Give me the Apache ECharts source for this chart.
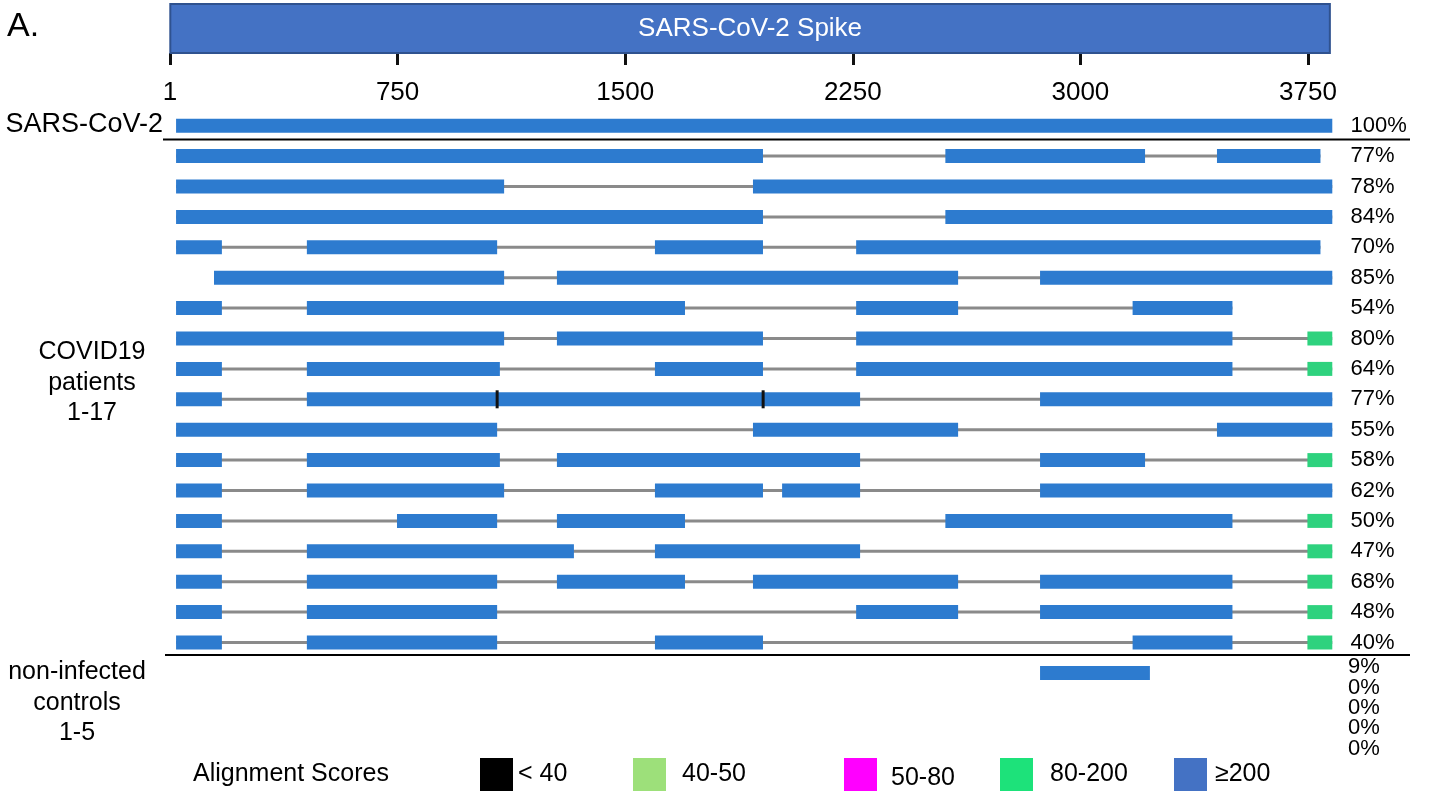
<!DOCTYPE html>
<html>
<head>
<meta charset="utf-8">
<title>SARS-CoV-2 Spike alignments</title>
<script src="https://cdn.jsdelivr.net/npm/echarts@6/dist/echarts.min.js"></script>
<style>
  html, body { margin: 0; padding: 0; background: #fff; }
  #chart { width: 1432px; height: 793px; }
</style>
</head>
<body>
<div id="chart"></div>
<script>
// gene on top, positions in nucleotides
const geneName = 'SARS-CoV-2 Spike';
const geneStart = 1;
const geneEnd = 3822;
const tickValues = [0, 750, 1500, 2250, 3000, 3750];
const tickLabels = ['1', '750', '1500', '2250', '3000', '3750'];

const rowNames = ['SARS-CoV-2',
  'P1', 'P2', 'P3', 'P4', 'P5', 'P6', 'P7', 'P8', 'P9', 'P10', 'P11', 'P12', 'P13', 'P14', 'P15', 'P16', 'P17',
  'C1', 'C2', 'C3', 'C4', 'C5'];
const coverage = ['100%',
  '77%', '78%', '84%', '70%', '85%', '54%', '80%', '64%', '77%', '55%', '58%', '62%', '50%', '47%', '68%', '48%', '40%',
  '9%', '0%', '0%', '0%', '0%'];
const patientRows = 18; // reference + 17 patients

// score classes 0..4
const scoreLabels = ['< 40', '40-50', '50-80', '80-200', '≥200'];
const scoreColors = ['#000000', '#9de07a', '#ff00ff', '#1de27a', '#4472c4'];
const hitColors = ['#111111', '#9de07a', '#ff00ff', '#2ed27e', '#2d7bcf'];

// hits per row: [start, end, scoreClass]
const hits = [
  [[20, 3830, 4]],
  [[20, 1954, 4], [2555, 3213, 4], [3450, 3791, 4]],
  [[20, 1101, 4], [1921, 3830, 4]],
  [[20, 1954, 4], [2555, 3830, 4]],
  [[20, 171, 4], [451, 1078, 4], [1598, 1954, 4], [2261, 3791, 4]],
  [[145, 1101, 4], [1275, 2597, 4], [2867, 3830, 4]],
  [[20, 171, 4], [451, 1697, 4], [2261, 2597, 4], [3172, 3501, 4]],
  [[20, 1101, 4], [1275, 1954, 4], [2261, 3501, 4], [3748, 3830, 3]],
  [[20, 171, 4], [451, 1087, 4], [1598, 1954, 4], [2261, 3501, 4], [3748, 3830, 3]],
  [[20, 171, 4], [451, 2274, 4], [2867, 3830, 4], [1074, 1082, 0], [1951, 1958, 0]],
  [[20, 1078, 4], [1921, 2597, 4], [3450, 3830, 4]],
  [[20, 171, 4], [451, 1087, 4], [1275, 2274, 4], [2867, 3213, 4], [3748, 3830, 3]],
  [[20, 171, 4], [451, 1101, 4], [1598, 1954, 4], [2017, 2274, 4], [2867, 3830, 4]],
  [[20, 171, 4], [748, 1078, 4], [1275, 1697, 4], [2555, 3501, 4], [3748, 3830, 3]],
  [[20, 171, 4], [451, 1331, 4], [1598, 2274, 4], [3748, 3830, 3]],
  [[20, 171, 4], [451, 1078, 4], [1275, 1697, 4], [1921, 2597, 4], [2867, 3501, 4], [3748, 3830, 3]],
  [[20, 171, 4], [451, 1078, 4], [2261, 2597, 4], [2867, 3501, 4], [3748, 3830, 3]],
  [[20, 171, 4], [451, 1078, 4], [1598, 1954, 4], [3172, 3501, 4], [3748, 3830, 3]],
  [[2867, 3229, 4]],
  [], [], [], []
];

const hitData = [];
const spanData = [];
hits.forEach((row, i) => {
  row.forEach(h => hitData.push([i, h[0], h[1], h[2]]));
  if (row.length > 1) {
    const s = Math.min(...row.map(h => h[0]));
    const e = Math.max(...row.map(h => h[1]));
    spanData.push([i, s, e]);
  }
});

const FONT = '"Liberation Sans", Arial, sans-serif';
const axisMax = 3880;
const pxPerNt = 0.30347;
const rowH = 30.4;
const shownRows = 21; // controls 2-5 carry no hits and fall below the plot

const chart = echarts.init(document.getElementById('chart'));

function renderSpan(params, api) {
  const a = api.coord([api.value(1), api.value(0)]);
  const b = api.coord([api.value(2), api.value(0)]);
  return {
    type: 'rect',
    shape: { x: a[0], y: a[1] - 1.5, width: b[0] - a[0], height: 3 },
    style: { fill: '#8a8a8a' }
  };
}

function renderHit(params, api) {
  const cls = api.value(3);
  const a = api.coord([api.value(1), api.value(0)]);
  const b = api.coord([api.value(2), api.value(0)]);
  if (cls === 0) {
    return {
      type: 'rect', z2: 10,
      shape: { x: (a[0] + b[0]) / 2 - 1.5, y: a[1] - 9, width: 3, height: 18 },
      style: { fill: hitColors[0] }
    };
  }
  return {
    type: 'rect',
    shape: { x: a[0], y: a[1] - 7, width: b[0] - a[0], height: 14 },
    style: { fill: hitColors[cls] }
  };
}

function renderGene(params, api) {
  const a = api.coord([api.value(0), 1]);
  const b = api.coord([api.value(1), 0]);
  return {
    type: 'rect',
    shape: { x: a[0], y: a[1], width: b[0] - a[0], height: b[1] - a[1] },
    style: { fill: '#4472c4', stroke: '#2f528f', lineWidth: 2 },
    textContent: {
      style: { text: geneName, fill: '#fff', fontSize: 26, fontFamily: FONT }
    },
    textConfig: { position: 'inside' }
  };
}

// legend swatches
const legendX = [480, 633, 844, 1000, 1174];
const legendTextX = [518, 682, 891, 1050, 1215];
const legendEls = [];
scoreLabels.forEach((lab, i) => {
  legendEls.push({
    type: 'rect', shape: { x: legendX[i], y: 758, width: 33, height: 33 },
    style: { fill: scoreColors[i] }
  });
  legendEls.push({
    type: 'text', x: legendTextX[i], y: i === 2 ? 778 : 774,
    style: { text: lab, fontSize: 25, fontFamily: FONT, fill: '#000', verticalAlign: 'middle' }
  });
});

const rowIdx = coverage.slice(0, patientRows).map((c, i) => i);

chart.setOption({
  animation: false,
  grid: [
    { left: 170, top: 110.5, width: axisMax * pxPerNt, height: rowH * shownRows },
    { left: 170, top: 4, width: axisMax * pxPerNt, height: 49 }
  ],
  xAxis: [
    { gridIndex: 0, type: 'value', min: 0, max: axisMax, show: false },
    {
      gridIndex: 1, type: 'value', min: 0, max: axisMax, interval: 750, position: 'bottom',
      axisLine: { show: false },
      splitLine: { show: false },
      axisTick: { show: true, length: 12, customValues: tickValues, lineStyle: { color: '#111', width: 3 } },
      axisLabel: {
        customValues: tickValues, margin: 27, fontSize: 26, fontFamily: FONT, color: '#000',
        formatter: v => tickLabels[tickValues.indexOf(v)] || ''
      }
    }
  ],
  yAxis: [
    { gridIndex: 0, type: 'value', inverse: true, min: -0.5, max: shownRows - 0.5, show: false },
    {
      gridIndex: 0, type: 'value', inverse: true, min: -0.5, max: shownRows - 0.5, position: 'right',
      axisLine: { show: false }, axisTick: { show: false }, splitLine: { show: false },
      axisLabel: {
        customValues: rowIdx, margin: 3, align: 'left', fontSize: 22, fontFamily: FONT, color: '#000',
        formatter: v => coverage[v]
      }
    },
    { gridIndex: 1, type: 'value', min: 0, max: 1, show: false }
  ],
  series: [
    { type: 'custom', xAxisIndex: 0, yAxisIndex: 0, renderItem: renderSpan, data: spanData, z: 1 },
    { type: 'custom', xAxisIndex: 0, yAxisIndex: 0, renderItem: renderHit, data: hitData, z: 2 },
    { type: 'custom', xAxisIndex: 1, yAxisIndex: 2, renderItem: renderGene, data: [[geneStart, geneEnd]], z: 2 }
  ],
  graphic: [
    { type: 'text', x: 7, y: 27, style: { text: 'A.', fontSize: 34, fontFamily: FONT, fill: '#000', verticalAlign: 'middle' } },
    { type: 'text', x: 163, y: 125, style: { text: rowNames[0], fontSize: 27, fontFamily: FONT, fill: '#000', align: 'right', verticalAlign: 'middle' } },
    { type: 'text', x: 92, y: 383, style: { text: 'COVID19\npatients\n1-17', fontSize: 25, lineHeight: 30.5, fontFamily: FONT, fill: '#000', align: 'center', verticalAlign: 'middle' } },
    { type: 'text', x: 77, y: 703, style: { text: 'non-infected\ncontrols\n1-5', fontSize: 25, lineHeight: 30.5, fontFamily: FONT, fill: '#000', align: 'center', verticalAlign: 'middle' } },
    { type: 'line', shape: { x1: 163, y1: 139.5, x2: 1410, y2: 139.5 }, style: { stroke: '#000', lineWidth: 2 } },
    { type: 'line', shape: { x1: 165, y1: 655, x2: 1410, y2: 655 }, style: { stroke: '#000', lineWidth: 2 } },
    {
      type: 'text', x: 1348, y: 708,
      style: { text: coverage.slice(patientRows).join('\n'), fontSize: 22, lineHeight: 20.3, fontFamily: FONT, fill: '#000', verticalAlign: 'middle' }
    },
    { type: 'text', x: 193, y: 774, style: { text: 'Alignment Scores', fontSize: 25, fontFamily: FONT, fill: '#000', verticalAlign: 'middle' } },
    ...legendEls
  ]
});
</script>
</body>
</html>
